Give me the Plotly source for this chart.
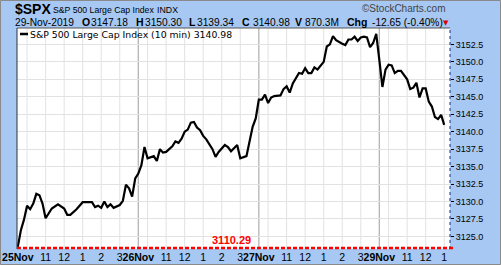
import plotly.graph_objects as go

# ---------------- data ----------------
DAY_LABELS = ["25Nov", "26Nov", "27Nov", "29Nov"]
SESSION_OPEN = "09:30"
SESSION_CLOSE = ["16:00", "16:00", "16:00", "13:00"]
BAR_MINUTES = 10

d1_time = ["09:30", "09:40", "09:50", "10:00", "10:10", "10:20", "10:30", "10:40", "10:50", "11:00",
           "11:20", "11:30", "11:40", "12:00", "12:10", "12:20", "12:40", "13:00", "13:30", "13:40",
           "13:50", "14:00", "14:10", "14:20", "14:30", "14:40", "15:00", "15:10", "15:20", "15:30",
           "15:40", "15:50"]
d1_price = [3123.5, 3125.9, 3127.4, 3129.4, 3128.9, 3129.7, 3131.1, 3130.9, 3129.7, 3127.6,
            3129.0, 3129.3, 3129.6, 3129.0, 3128.1, 3128.1, 3128.9, 3129.9, 3129.9, 3129.2,
            3129.4, 3129.1, 3130.0, 3129.2, 3129.6, 3129.1, 3129.5, 3130.1, 3132.4, 3131.9,
            3130.7, 3133.3]

d2_time = ["09:30", "09:40", "09:50", "10:00", "10:20", "10:30", "10:40", "10:50", "11:00", "11:20",
           "11:30", "11:40", "11:50", "12:00", "12:10", "12:20", "12:30", "12:40", "12:50", "13:00",
           "13:10", "13:30", "13:40", "13:50", "14:10", "14:20", "14:30", "14:50", "15:00", "15:20",
           "15:30", "15:40", "15:50"]
d2_price = [3134.0, 3135.2, 3137.8, 3136.2, 3136.5, 3135.8, 3137.5, 3137.0, 3137.1, 3137.9,
            3138.6, 3138.4, 3139.0, 3140.0, 3140.3, 3141.3, 3141.4, 3140.6, 3140.2, 3139.4,
            3138.9, 3137.5, 3136.4, 3137.1, 3138.1, 3137.8, 3137.2, 3138.1, 3136.2, 3136.5,
            3138.6, 3140.7, 3141.9]

d3_time = ["09:30", "09:40", "09:50", "10:00", "10:10", "10:20", "10:40", "10:50", "11:00", "11:10",
           "11:20", "11:40", "11:50", "12:00", "12:10", "12:20", "12:30", "12:40", "13:00", "13:10",
           "13:20", "13:30", "13:40", "14:00", "14:10", "14:20", "14:30", "14:40", "14:50", "15:00",
           "15:10", "15:20", "15:30", "15:40", "15:50"]
d3_price = [3144.6, 3144.6, 3145.3, 3144.1, 3144.9, 3145.1, 3145.2, 3146.1, 3146.5, 3145.6,
            3146.9, 3148.4, 3148.3, 3149.1, 3148.4, 3148.4, 3149.2, 3148.9, 3150.0, 3152.2,
            3152.5, 3153.7, 3153.1, 3152.6, 3152.4, 3153.2, 3153.2, 3153.6, 3153.0, 3153.5,
            3153.6, 3153.5, 3152.1, 3152.7, 3154.0]

d4_time = ["09:30", "09:40", "09:50", "10:00", "10:10", "10:20", "10:30", "10:40", "11:00", "11:10",
           "11:20", "11:30", "11:40", "11:50", "12:00", "12:10", "12:20", "12:30", "12:40", "12:50",
           "13:00"]
d4_price = [3150.3, 3146.4, 3148.9, 3149.6, 3149.5, 3148.4, 3148.7, 3148.7, 3147.5, 3146.1,
            3146.3, 3147.0, 3144.9, 3146.2, 3146.2, 3144.3, 3143.6, 3142.1, 3141.8, 3142.4,
            3140.98]

GRID_HOURS = ["10:00", "11:00", "12:00", "13:00", "14:00", "15:00"]
HOUR_TEXT = {"10:00": "10", "11:00": "11", "12:00": "12", "13:00": "1", "14:00": "2", "15:00": "3"}
LABELLED_HOURS = ["11:00", "12:00", "13:00", "14:00", "15:00"]

Y_TICKS = [3125.0, 3127.5, 3130.0, 3132.5, 3135.0, 3137.5, 3140.0, 3142.5, 3145.0, 3147.5, 3150.0, 3152.5]

SYMBOL = "$SPX"
NAME = "S&P 500 Large Cap Index"
EXCHANGE = "INDX"
DATE = "29-Nov-2019"
OPEN, HIGH, LOW, CLOSE = "3147.18", "3150.30", "3139.34", "3140.98"
VOLUME = "870.3M"
CHANGE = "-12.65 (-0.40%)"
PRICE_LINE = 3110.29

days_time = [d1_time, d2_time, d3_time, d4_time]
days_price = [d1_price, d2_price, d3_price, d4_price]


def minutes(t):
    h, m = t.split(":")
    return int(h) * 60 + int(m)


open_min = minutes(SESSION_OPEN)
day_start = []
acc = 0
for c in SESSION_CLOSE:
    day_start.append(acc)
    acc += (minutes(c) - open_min) // BAR_MINUTES

xs, ys = [], []
for d in range(len(DAY_LABELS)):
    for t, p in zip(days_time[d], days_price[d]):
        xs.append(day_start[d] + (minutes(t) - open_min) / BAR_MINUTES)
        ys.append(p)

tickvals, ticktext, gridvals = [], [], []
n_days = len(DAY_LABELS)
for d in range(n_days):
    tickvals.append(day_start[d])
    ticktext.append("<b>" + DAY_LABELS[d] + "</b>")
    cl = minutes(SESSION_CLOSE[d])
    for h in GRID_HOURS:
        m = minutes(h)
        if m < cl or (d == n_days - 1 and m == cl):
            x = day_start[d] + (m - open_min) / BAR_MINUTES
            gridvals.append(x)
            if h in LABELLED_HOURS:
                tickvals.append(x)
                ticktext.append(HOUR_TEXT[h])

# ---------------- layout helpers ----------------
W, H = 501, 265
PL, PR, PT, PB = 17, 450, 28, 249


def fx(px):
    return (px - PL) / (PR - PL)


def fy(py):
    return (PB - py) / (PB - PT)


BG = "#a6c8f3"

fig = go.Figure()
fig.add_trace(go.Scatter(x=xs, y=ys, mode="lines",
                         line=dict(color="#000000", width=2.2),
                         name=NAME, showlegend=False, hoverinfo="skip"))

shapes = []
for g in gridvals:
    shapes.append(dict(type="line", xref="x", yref="paper", x0=g, x1=g, y0=0, y1=1,
                       line=dict(color="#e2e2e2", width=1), layer="below"))
for d in range(1, n_days):
    shapes.append(dict(type="line", xref="x", yref="paper", x0=day_start[d], x1=day_start[d], y0=0, y1=1,
                       line=dict(color="#b4b4b4", width=1.3), layer="below"))
# borders
shapes.append(dict(type="line", xref="paper", yref="paper", x0=0, x1=0, y0=0, y1=1,
                   line=dict(color="#333333", width=1)))
shapes.append(dict(type="line", xref="paper", yref="paper", x0=0, x1=1, y0=1, y1=1,
                   line=dict(color="#555555", width=1)))
shapes.append(dict(type="line", xref="paper", yref="paper", x0=1, x1=1, y0=0, y1=1,
                   line=dict(color="#1c2a80", width=1, dash="dot")))
# red price-level line
shapes.append(dict(type="line", xref="paper", yref="paper", x0=0, x1=fx(453), y0=fy(248), y1=fy(248),
                   line=dict(color="#ff0000", width=2.5, dash="4px,2px")))
# legend swatch
shapes.append(dict(type="line", xref="paper", yref="paper", x0=fx(20), x1=fx(28), y0=fy(34), y1=fy(34),
                   line=dict(color="#000000", width=2.5)))
# outer frame
shapes.append(dict(type="rect", xref="paper", yref="paper", x0=fx(0.5), x1=fx(500.5), y0=fy(264.5), y1=fy(0.5),
                   line=dict(color="#8a8a8a", width=1)))

ann = []


def text(px, py, s, size=10, color="#000000", family="Arial", anchor="left"):
    ann.append(dict(xref="paper", yref="paper", x=fx(px), y=fy(py), text=s, showarrow=False,
                    xanchor=anchor, yanchor="middle", borderpad=0,
                    font=dict(size=size, color=color, family=family)))


text(14, 9, "<b>" + SYMBOL + "</b>", 14)
text(52, 9.5, NAME, 8.7)
text(156, 9.5, EXCHANGE, 8.8)
text(361, 8, "©StockCharts.com", 10, "#444444")

row2 = 22
text(14, row2, DATE, 10.2)
text(81, row2, "<b>O</b>", 10.5)
text(90, row2, OPEN, 10.2)
text(135, row2, "<b>H</b>", 10.5)
text(144, row2, HIGH, 10.2)
text(188, row2, "<b>L</b>", 10.5)
text(196, row2, LOW, 10.2)
text(241, row2, "<b>C</b>", 10.5)
text(251.5, row2, CLOSE, 10.2)
text(294, row2, "<b>V</b>", 10.5)
text(304, row2, VOLUME, 10.2)
text(346, row2, "<b>Chg</b>", 10.5)
text(371, row2, CHANGE, 10.2)
text(442, row2 + 1, "▼", 7, "#dd0000", "DejaVu Sans")

text(29, 34.5, NAME + " (10 min) " + f"{ys[-1]:.2f}", 9.3, "#000000", "DejaVu Sans")
ann.append(dict(xref="paper", yref="paper", x=fx(231), y=fy(240), text=f"<b>{PRICE_LINE:.2f}</b>",
                showarrow=False, xanchor="center", yanchor="middle", borderpad=0,
                font=dict(size=11, color="#ff0000", family="Arial")))

fig.update_layout(
    width=W, height=H,
    margin=dict(l=PL, r=W - PR, t=PT, b=H - PB, pad=0, autoexpand=False),
    paper_bgcolor=BG, plot_bgcolor="#ffffff",
    shapes=shapes, annotations=ann,
    showlegend=False,
    xaxis=dict(range=[-0.26, 139.87], tickmode="array", tickvals=tickvals, ticktext=ticktext,
               showgrid=False, zeroline=False, showline=False, ticks="", tickangle=0, automargin=False,
               tickfont=dict(size=10.5, color="#000000", family="Arial"), fixedrange=True),
    yaxis=dict(range=[3123.2, 3154.85], side="right", tickmode="array", tickvals=Y_TICKS,
               ticktext=[f"{v:.1f}" for v in Y_TICKS], automargin=False,
               showgrid=True, gridcolor="#e2e2e2", gridwidth=1, zeroline=False, showline=False,
               ticks="outside", ticklen=3, tickcolor="#000000", tickwidth=1,
               tickfont=dict(size=9, color="#000000", family="Arial"), fixedrange=True),
)

fig.write_html("out.html", config={"displayModeBar": False})
